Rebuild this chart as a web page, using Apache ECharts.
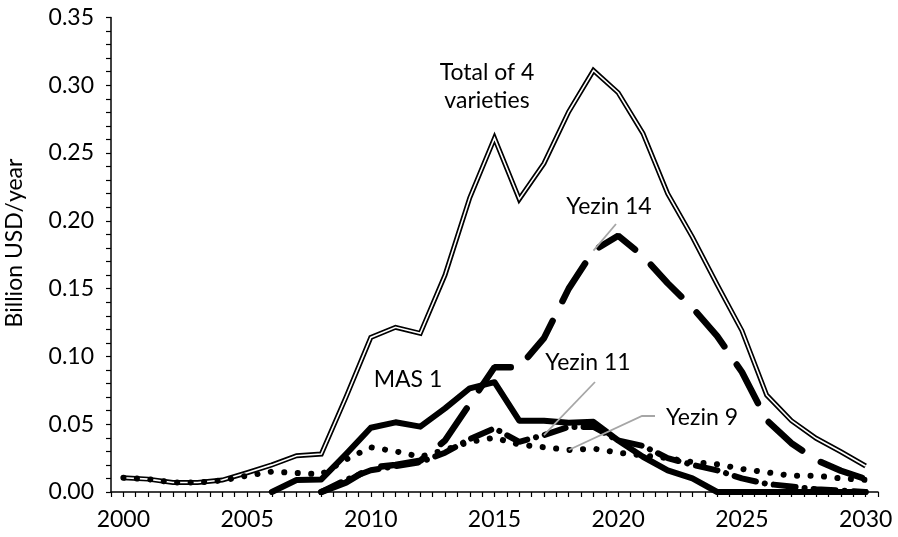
<!DOCTYPE html>
<html>
<head>
<meta charset="utf-8">
<script src="https://cdn.jsdelivr.net/npm/echarts@6/dist/echarts.min.js"></script>
<style>
html,body{margin:0;padding:0;background:#fff;}
#chart{width:898px;height:537px;}
</style>
</head>
<body>
<div id="chart"></div>
<script>
// ---- data (Billion USD/year) ----
var years = [2000,2001,2002,2003,2004,2005,2006,2007,2008,2009,2010,2011,2012,2013,2014,2015,2016,2017,2018,2019,2020,2021,2022,2023,2024,2025,2026,2027,2028,2029,2030];
var total =  [0.0105,0.0095,0.007,0.007,0.0088,0.0142,0.020,0.0268,0.028,0.070,0.114,0.1215,0.117,0.160,0.217,0.261,0.216,0.2424,0.2805,0.311,0.2945,0.2645,0.220,0.188,0.153,0.119,0.0715,0.0526,0.0396,0.0297,0.0192];
var mas1 =   [null,null,null,null,null,null,0,0.0088,0.0093,0.028,0.0474,0.0514,0.0482,0.0617,0.0765,0.081,0.0526,0.0526,0.051,0.0518,0.038,0.026,0.016,0.010,0,0,0,0,0,0,0];
var yezin14 =[null,null,null,null,null,null,null,null,0,0.007,0.018,0.020,0.023,0.038,0.065,0.092,0.092,0.1135,0.150,0.178,0.189,0.174,0.154,0.136,0.115,0.0885,0.053,0.036,0.0236,0.0157,0.0096];
var yezin11 =[null,null,null,null,null,null,null,null,0,0.009,0.016,0.019,0.022,0.029,0.039,0.047,0.037,0.042,0.048,0.048,0.038,0.034,0.025,0.020,0.016,0.010,0.006,0.004,0.002,0.001,0];
var yezin9 = [0.0105,0.0095,0.007,0.007,0.0085,0.012,0.015,0.014,0.013,0.024,0.033,0.030,0.026,0.031,0.037,0.040,0.035,0.033,0.031,0.032,0.029,0.027,0.025,0.022,0.0205,0.017,0.0145,0.012,0.012,0.010,0.009];
var yTicks = [0,0.05,0.10,0.15,0.20,0.25,0.30,0.35];
var xLabelStep = 5;

var FONT = 'Lato';
function pairs(v){ return years.map(function(y,i){ return [y, v[i]]; }); }

var chart = echarts.init(document.getElementById('chart'), null, {renderer:'canvas'});

var base = {type:'line', showSymbol:false, symbol:'none', smooth:false, connectNulls:false, animation:false, silent:true};
function s(name, data, ls, z){
  return Object.assign({}, base, {name:name, data:pairs(data), lineStyle:ls, z:z});
}

var option = {
  animation:false,
  backgroundColor:'#fff',
  grid:{left:111, right:20, top:17.5, bottom:45, containLabel:false},
  xAxis:{
    type:'value', min:1999.5, max:2030.5, interval:0.5,
    axisLine:{show:true, lineStyle:{color:'#000', width:1.5}},
    axisTick:{show:true, inside:false, length:5, lineStyle:{color:'#000', width:1.2}},
    splitLine:{show:false},
    axisLabel:{
      margin:16, color:'#000', fontFamily:FONT, fontSize:23,
      showMinLabel:true, showMaxLabel:true,
      formatter:function(v){ return (Math.abs(v - Math.round(v))<1e-6 && Math.round(v)%xLabelStep===0) ? String(Math.round(v)) : ''; }
    }
  },
  yAxis:{
    type:'value', min:yTicks[0], max:yTicks[yTicks.length-1], interval:0.05,
    axisLine:{show:true, lineStyle:{color:'#000', width:1.5}},
    axisTick:{show:true, inside:false, length:5, lineStyle:{color:'#000', width:1.2}},
    minorTick:{show:true, splitNumber:5, length:5, lineStyle:{color:'#000', width:1.2}},
    splitLine:{show:false},
    axisLabel:{margin:17, color:'#000', fontFamily:FONT, fontSize:23,
      formatter:function(v){ return v.toFixed(2); }}
  },
  series:[
    s('Total outer', total, {color:'#000', width:5, join:'miter'}, 2),
    s('Total of 4 varieties', total, {color:'#fff', width:1.6, join:'miter'}, 3),
    s('Yezin 9', yezin9, {color:'#000', width:6, type:[0.1,13.4], cap:'round'}, 4),
    s('Yezin 11', yezin11, {color:'#000', width:6, type:[22,9,0.1,9], cap:'round'}, 5),
    s('Yezin 14', yezin14, {color:'#000', width:6.5, type:[44,22], cap:'round'}, 6),
    s('MAS 1', mas1, {color:'#000', width:6, join:'round', cap:'round'}, 7)
  ]
};
chart.setOption(option);

function px(yr, arr){
  var i = years.indexOf(yr);
  return chart.convertToPixel({gridIndex:0}, [yr, arr[i]]);
}
var p14 = px(2019, yezin14), p11 = px(2017, yezin11), p9 = px(2018, yezin9);
var txt = {fill:'#000', fontFamily:FONT, fontSize:23, align:'center', verticalAlign:'middle'};
var grey = {stroke:'#a6a6a6', lineWidth:1.8, fill:null};
chart.setOption({
  graphic:[
    {type:'text', x:15, y:243, rotation:Math.PI/2, style:Object.assign({}, txt, {text:'Billion USD/year'})},
    {type:'text', x:487, y:87, style:Object.assign({}, txt, {text:'Total of 4\nvarieties', lineHeight:28})},
    {type:'text', x:609, y:207, style:Object.assign({}, txt, {text:'Yezin 14'})},
    {type:'text', x:408, y:380, style:Object.assign({}, txt, {text:'MAS 1'})},
    {type:'text', x:588, y:363, style:Object.assign({}, txt, {text:'Yezin 11'})},
    {type:'text', x:702, y:418, style:Object.assign({}, txt, {text:'Yezin 9'})},
    {type:'polyline', z:10, shape:{points:[[616,224],[p14[0],p14[1]]]}, style:grey},
    {type:'polyline', z:10, shape:{points:[[595,382],[p11[0],p11[1]]]}, style:grey},
    {type:'polyline', z:10, shape:{points:[[655,416],[642,416],[p9[0],p9[1]]]}, style:grey}
  ]
});
</script>
</body>
</html>
